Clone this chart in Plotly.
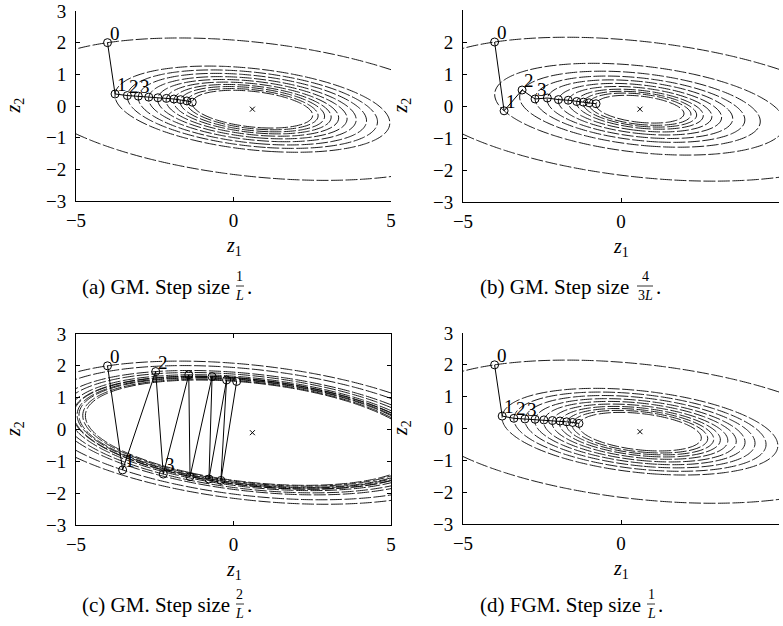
import numpy as np
import plotly.graph_objects as go

W, H = 783, 626

# ---- objective: f(z) = (z-c)^T Q (z-c) ----
center_z1, center_z2 = 0.6, -0.1
Q = [[0.0213, 0.0219], [0.0219, 0.2188]]

# ---- iterates ----
a_z1 = [-4.0, -3.76, -3.37, -3.02, -2.69, -2.40, -2.13, -1.89, -1.68, -1.48, -1.31]
a_z2 = [2.0, 0.38, 0.33, 0.31, 0.28, 0.26, 0.24, 0.22, 0.20, 0.16, 0.12]

b_z1 = [-4.0, -3.70, -3.13, -2.72, -2.33, -1.98, -1.67, -1.40, -1.19, -1.01, -0.79]
b_z2 = [2.0, -0.15, 0.50, 0.22, 0.25, 0.20, 0.18, 0.14, 0.12, 0.10, 0.07]

c_z1 = [-4.0, -3.52, -2.47, -2.23, -1.42, -1.38, -0.68, -0.78, -0.22, -0.40, 0.10]
c_z2 = [2.0, -1.27, 1.82, -1.40, 1.72, -1.48, 1.66, -1.555, 1.555, -1.60, 1.51]

d_z1 = [-4.0, -3.76, -3.39, -3.04, -2.72, -2.44, -2.17, -1.93, -1.72, -1.53, -1.33]
d_z2 = [2.0, 0.39, 0.32, 0.30, 0.29, 0.27, 0.25, 0.235, 0.21, 0.19, 0.16]

point_labels = ["0", "1", "2", "3"]

captions = ["(a) GM. Step size", "(b) GM. Step size", "(c) GM. Step size", "(d) FGM. Step size"]
frac_num = ["1", "4", "2", "1"]
frac_den = ["<i>L</i>", "3<i>L</i>", "<i>L</i>", "<i>L</i>"]

x_ticks = [-5, 0, 5]
y_ticks = [-3, -2, -1, 0, 1, 2, 3]

FONT = "Liberation Serif"


def f(z1, z2):
    d1 = np.asarray(z1) - center_z1
    d2 = np.asarray(z2) - center_z2
    return Q[0][0] * d1 * d1 + 2 * Q[0][1] * d1 * d2 + Q[1][1] * d2 * d2


gx = np.linspace(-5, 5, 161)
gy = np.linspace(-3, 3, 97)
GX, GY = np.meshgrid(gx, gy)
GZ = np.round(f(GX, GY), 6)

# pixel boxes of the four plot areas: (left, right, top, bottom)
boxes = [(76, 391, 11, 201), (463, 779, 10, 202), (76, 391, 334, 525), (463, 779, 333, 524)]
series = [(a_z1, a_z2), (b_z1, b_z2), (c_z1, c_z2), (d_z1, d_z2)]
# caption: left start (px), fraction centre (px), fraction bar y (px)
cap_pos = [(80, 240, 286), (478, 645, 286), (80, 240, 604), (478, 651, 604)]


def px(x):
    return x / W


def py(y):
    return 1 - y / H


fig = go.Figure()
annotations = []
shapes = []

for i, ((zx, zy), box) in enumerate(zip(series, boxes)):
    sfx = "" if i == 0 else str(i + 1)
    xa, ya = "x" + sfx, "y" + sfx
    levels = f(zx, zy)
    for lv in levels:
        fig.add_trace(go.Contour(
            x=gx, y=gy, z=GZ, xaxis=xa, yaxis=ya,
            contours=dict(start=float(lv), end=float(lv), size=1, coloring="lines", showlabels=False),
            colorscale=[[0, "black"], [1, "black"]],
            line=dict(width=0.9, dash="12px,2.5px", smoothing=1),
            showscale=False, hoverinfo="skip",
        ))
    fig.add_trace(go.Scatter(
        x=zx, y=zy, xaxis=xa, yaxis=ya, mode="lines+markers",
        line=dict(color="black", width=1),
        marker=dict(symbol="circle-open", size=8, color="black", line=dict(width=1, color="black")),
        hoverinfo="skip", showlegend=False,
    ))
    fig.add_trace(go.Scatter(
        x=[center_z1], y=[center_z2], xaxis=xa, yaxis=ya, mode="markers",
        marker=dict(symbol="x-thin-open", size=5, color="black", line=dict(width=1, color="black")),
        hoverinfo="skip", showlegend=False,
    ))
    for k, lab in enumerate(point_labels):
        annotations.append(dict(
            x=zx[k], y=zy[k], xref=xa, yref=ya, text=lab, showarrow=False,
            xanchor="left", yanchor="bottom", xshift=0, yshift=-3,
            font=dict(family=FONT, size=19, color="black"),
        ))
    L, R, T, B = box
    axis_common = dict(
        showgrid=False, zeroline=False, showline=True, linecolor="black", linewidth=1,
        ticks="inside", ticklen=4, tickcolor="black", tickwidth=1, automargin=False,
        mirror="ticks" if i == 2 else False,
        tickfont=dict(family=FONT, size=19, color="black"),
    )
    fig.update_layout(**{
        "xaxis" + sfx: dict(domain=[px(L), px(R)], range=[-5, 5], tickvals=x_ticks,
                            anchor=ya, ticklabelstandoff=2, **axis_common),
        "yaxis" + sfx: dict(domain=[py(B), py(T)], range=[-3, 3], tickvals=y_ticks,
                            anchor=xa, ticklabelstandoff=5, **axis_common),
    })
    # axis titles
    cx = (L + R) / 2
    annotations.append(dict(x=px(cx), y=py(B + 45), xref="paper", yref="paper",
                            text="<i>z</i><sub>1</sub>", showarrow=False,
                            xanchor="center", yanchor="middle",
                            font=dict(family=FONT, size=20, color="black")))
    annotations.append(dict(x=px(L - 76), y=py((T + B) / 2), xref="paper", yref="paper",
                            text="<i>z</i><sub>2</sub>", showarrow=False, textangle=-90,
                            xanchor="left", yanchor="middle",
                            font=dict(family=FONT, size=20, color="black")))
    # caption with stacked fraction
    cs, fx, bar_y = cap_pos[i]
    annotations.append(dict(x=px(cs), y=py(bar_y + 1), xref="paper", yref="paper",
                            text=captions[i], showarrow=False, xanchor="left", yanchor="middle",
                            font=dict(family=FONT, size=21, color="black")))
    annotations.append(dict(x=px(fx), y=py(bar_y - 1), xref="paper", yref="paper",
                            text=frac_num[i], showarrow=False, xanchor="center", yanchor="bottom",
                            font=dict(family=FONT, size=14, color="black"), borderpad=0))
    annotations.append(dict(x=px(fx), y=py(bar_y + 1), xref="paper", yref="paper",
                            text=frac_den[i], showarrow=False, xanchor="center", yanchor="top",
                            font=dict(family=FONT, size=14, color="black"), borderpad=0))
    half = 4 if i != 1 else 8
    shapes.append(dict(type="line", xref="paper", yref="paper",
                       x0=px(fx - half), x1=px(fx + half), y0=py(bar_y), y1=py(bar_y),
                       line=dict(color="black", width=0.8)))
    annotations.append(dict(x=px(fx + half + 1), y=py(bar_y + 1), xref="paper", yref="paper",
                            text=".", showarrow=False, xanchor="left", yanchor="middle",
                            font=dict(family=FONT, size=21, color="black")))

fig.update_layout(
    width=W, height=H, margin=dict(l=0, r=0, t=0, b=0, autoexpand=False),
    paper_bgcolor="white", plot_bgcolor="white",
    showlegend=False, annotations=annotations, shapes=shapes,
    font=dict(family=FONT, size=19, color="black"),
)

fig.write_html("out.html", config={"displayModeBar": False},
               post_script="document.body.style.margin='0px';document.body.style.overflow='hidden';")
